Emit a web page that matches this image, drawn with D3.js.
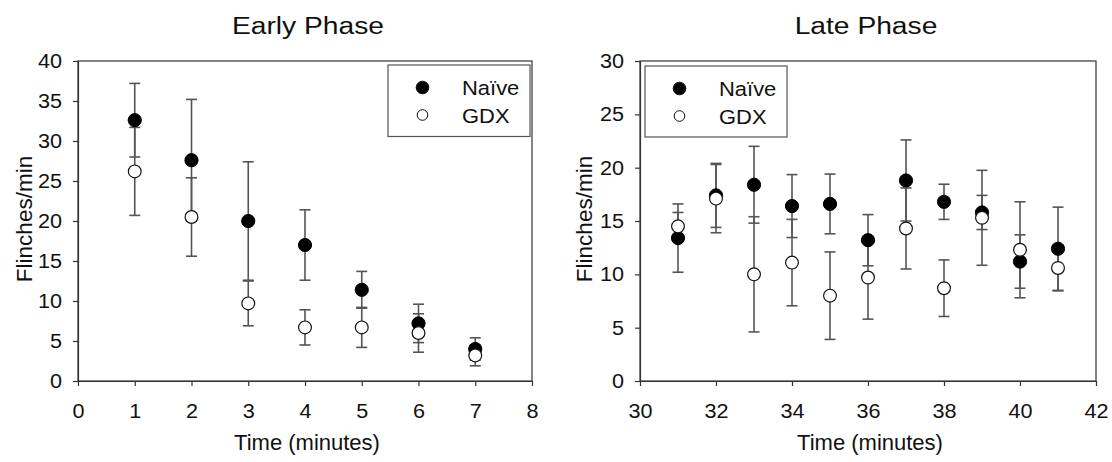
<!DOCTYPE html>
<html>
<head>
<meta charset="utf-8">
<script src="https://cdn.jsdelivr.net/npm/d3@7"></script>
<style>
  html, body { margin: 0; padding: 0; background: #fff; }
  svg { display: block; font-family: "Liberation Sans", Arial, sans-serif; }
</style>
</head>
<body>
<svg id="chart" width="1112" height="462"></svg>
<script>
// Early phase (0–8 min)
const earlyTime = [1, 2, 3, 4, 5, 6, 7];
const earlyNaive = [32.6, 27.6, 20.0, 17.0, 11.4, 7.2, 4.0];
const earlyNaiveErr = [4.6, 7.6, 7.4, 4.4, 2.3, 2.4, 1.4];
const earlyGdx = [26.2, 20.5, 9.7, 6.7, 6.7, 6.0, 3.2];
const earlyGdxErr = [5.5, 4.9, 2.8, 2.2, 2.5, 2.4, 1.3];
const earlyXTicks = [0, 1, 2, 3, 4, 5, 6, 7, 8];
const earlyYTicks = [0, 5, 10, 15, 20, 25, 30, 35, 40];

// Late phase (30–42 min)
const lateTime = [31, 32, 33, 34, 35, 36, 37, 38, 39, 40, 41];
const lateNaive = [13.4, 17.4, 18.4, 16.4, 16.6, 13.2, 18.8, 16.8, 15.8, 11.2, 12.4];
const lateNaiveErr = [3.2, 3.0, 3.6, 2.95, 2.8, 2.4, 3.8, 1.65, 1.6, 2.5, 3.9];
const lateGdx = [14.5, 17.1, 10.0, 11.1, 8.0, 9.7, 14.3, 8.7, 15.3, 12.3, 10.6];
const lateGdxErr = [1.3, 3.2, 5.4, 4.05, 4.1, 3.9, 3.8, 2.65, 4.45, 4.5, 2.15];
const lateXTicks = [30, 32, 34, 36, 38, 40, 42];
const lateYTicks = [0, 5, 10, 15, 20, 25, 30];

const seriesNames = ["Naïve", "GDX"];

const svg = d3.select("#chart");

// widen glyphs horizontally by a factor, keeping the anchor point
function widen(sel, factor) {
  sel.each(function () {
    const len = this.getComputedTextLength();
    d3.select(this).attr("textLength", len * factor).attr("lengthAdjust", "spacingAndGlyphs");
  });
}

function panel(opts) {
  const { left, right, top, bottom, xDomain, yDomain, xTicks, yTicks, title, titleX, yLabelX,
          time, naive, naiveErr, gdx, gdxErr, legend } = opts;
  const x = d3.scaleLinear().domain(xDomain).range([left, right]);
  const y = d3.scaleLinear().domain(yDomain).range([bottom, top]);
  const g = svg.append("g");

  // frame
  g.append("rect")
    .attr("x", left).attr("y", top)
    .attr("width", right - left).attr("height", bottom - top)
    .attr("fill", "none").attr("stroke", "#333").attr("stroke-width", 1.2);

  const xAxis = g.append("g")
    .attr("transform", `translate(0,${bottom})`)
    .call(d3.axisBottom(x).tickValues(xTicks).tickSize(5).tickSizeOuter(0).tickPadding(18));
  const yAxis = g.append("g")
    .attr("transform", `translate(${left},0)`)
    .call(d3.axisLeft(y).tickValues(yTicks).tickSize(5).tickSizeOuter(0).tickPadding(11));
  [xAxis, yAxis].forEach(a => {
    a.select(".domain").attr("stroke", "#333").attr("stroke-width", 1.2);
    a.selectAll(".tick line").attr("stroke", "#333").attr("stroke-width", 1.2);
    a.selectAll(".tick text").attr("fill", "#111").style("font-size", "20px")
      .style("font-family", "'Liberation Sans', Arial, sans-serif");
    widen(a.selectAll(".tick text"), 1.08);
  });

  // titles
  const t = g.append("text").attr("x", titleX).attr("y", 34)
    .attr("text-anchor", "middle").style("font-size", "23.5px").attr("fill", "#111")
    .text(title);
  widen(t, 1.2);
  g.append("text").attr("x", (left + right) / 2 + 2).attr("y", 450)
    .attr("text-anchor", "middle").style("font-size", "22px").attr("fill", "#111")
    .text("Time (minutes)");
  g.append("text")
    .attr("transform", `translate(${yLabelX},${(top + bottom) / 2 - 2}) rotate(-90)`)
    .attr("text-anchor", "middle").style("font-size", "22.5px").attr("fill", "#111")
    .text("Flinches/min");

  // error bars
  const capW = 5.5;
  function errorBars(vals, errs) {
    const eg = g.append("g").attr("stroke", "#555").attr("stroke-width", 1.6);
    time.forEach((tv, i) => {
      const xv = x(tv), y0 = y(vals[i] - errs[i]), y1 = y(vals[i] + errs[i]);
      eg.append("line").attr("x1", xv).attr("x2", xv).attr("y1", y0).attr("y2", y1);
      eg.append("line").attr("x1", xv - capW).attr("x2", xv + capW).attr("y1", y0).attr("y2", y0);
      eg.append("line").attr("x1", xv - capW).attr("x2", xv + capW).attr("y1", y1).attr("y2", y1);
    });
  }
  errorBars(naive, naiveErr);
  errorBars(gdx, gdxErr);

  g.append("g").selectAll("circle").data(time).join("circle")
    .attr("cx", d => x(d)).attr("cy", (d, i) => y(naive[i])).attr("r", 6.6)
    .attr("fill", "#000").attr("stroke", "#000");
  g.append("g").selectAll("circle").data(time).join("circle")
    .attr("cx", d => x(d)).attr("cy", (d, i) => y(gdx[i])).attr("r", 6.4)
    .attr("fill", "#fff").attr("stroke", "#111").attr("stroke-width", 1.2);

  // legend
  const lg = g.append("g");
  lg.append("rect").attr("x", legend.x).attr("y", legend.y)
    .attr("width", legend.w).attr("height", legend.h)
    .attr("fill", "#fff").attr("stroke", "#555").attr("stroke-width", 1.2);
  seriesNames.forEach((name, i) => {
    const yy = legend.y + 22.5 + i * 27.5;
    lg.append("circle").attr("cx", legend.x + 34.5).attr("cy", yy).attr("r", i === 0 ? 6.3 : 5.3)
      .attr("fill", i === 0 ? "#000" : "#fff").attr("stroke", "#111").attr("stroke-width", 1);
    const tx = lg.append("text").attr("x", legend.x + 74).attr("y", yy + 7.5)
      .style("font-size", "20.5px").attr("fill", "#111").text(name);
    widen(tx, 1.07);
  });
}

panel({
  left: 78, right: 532, top: 61, bottom: 381,
  xDomain: [0, 8], yDomain: [0, 40], xTicks: earlyXTicks, yTicks: earlyYTicks,
  title: "Early Phase", titleX: 308, yLabelX: 32,
  time: earlyTime, naive: earlyNaive, naiveErr: earlyNaiveErr, gdx: earlyGdx, gdxErr: earlyGdxErr,
  legend: { x: 388, y: 65, w: 142, h: 71.5 }
});

panel({
  left: 640, right: 1096, top: 61, bottom: 381,
  xDomain: [30, 42], yDomain: [0, 30], xTicks: lateXTicks, yTicks: lateYTicks,
  title: "Late Phase", titleX: 866, yLabelX: 592,
  time: lateTime, naive: lateNaive, naiveErr: lateNaiveErr, gdx: lateGdx, gdxErr: lateGdxErr,
  legend: { x: 645, y: 66, w: 142, h: 71 }
});
</script>
</body>
</html>
